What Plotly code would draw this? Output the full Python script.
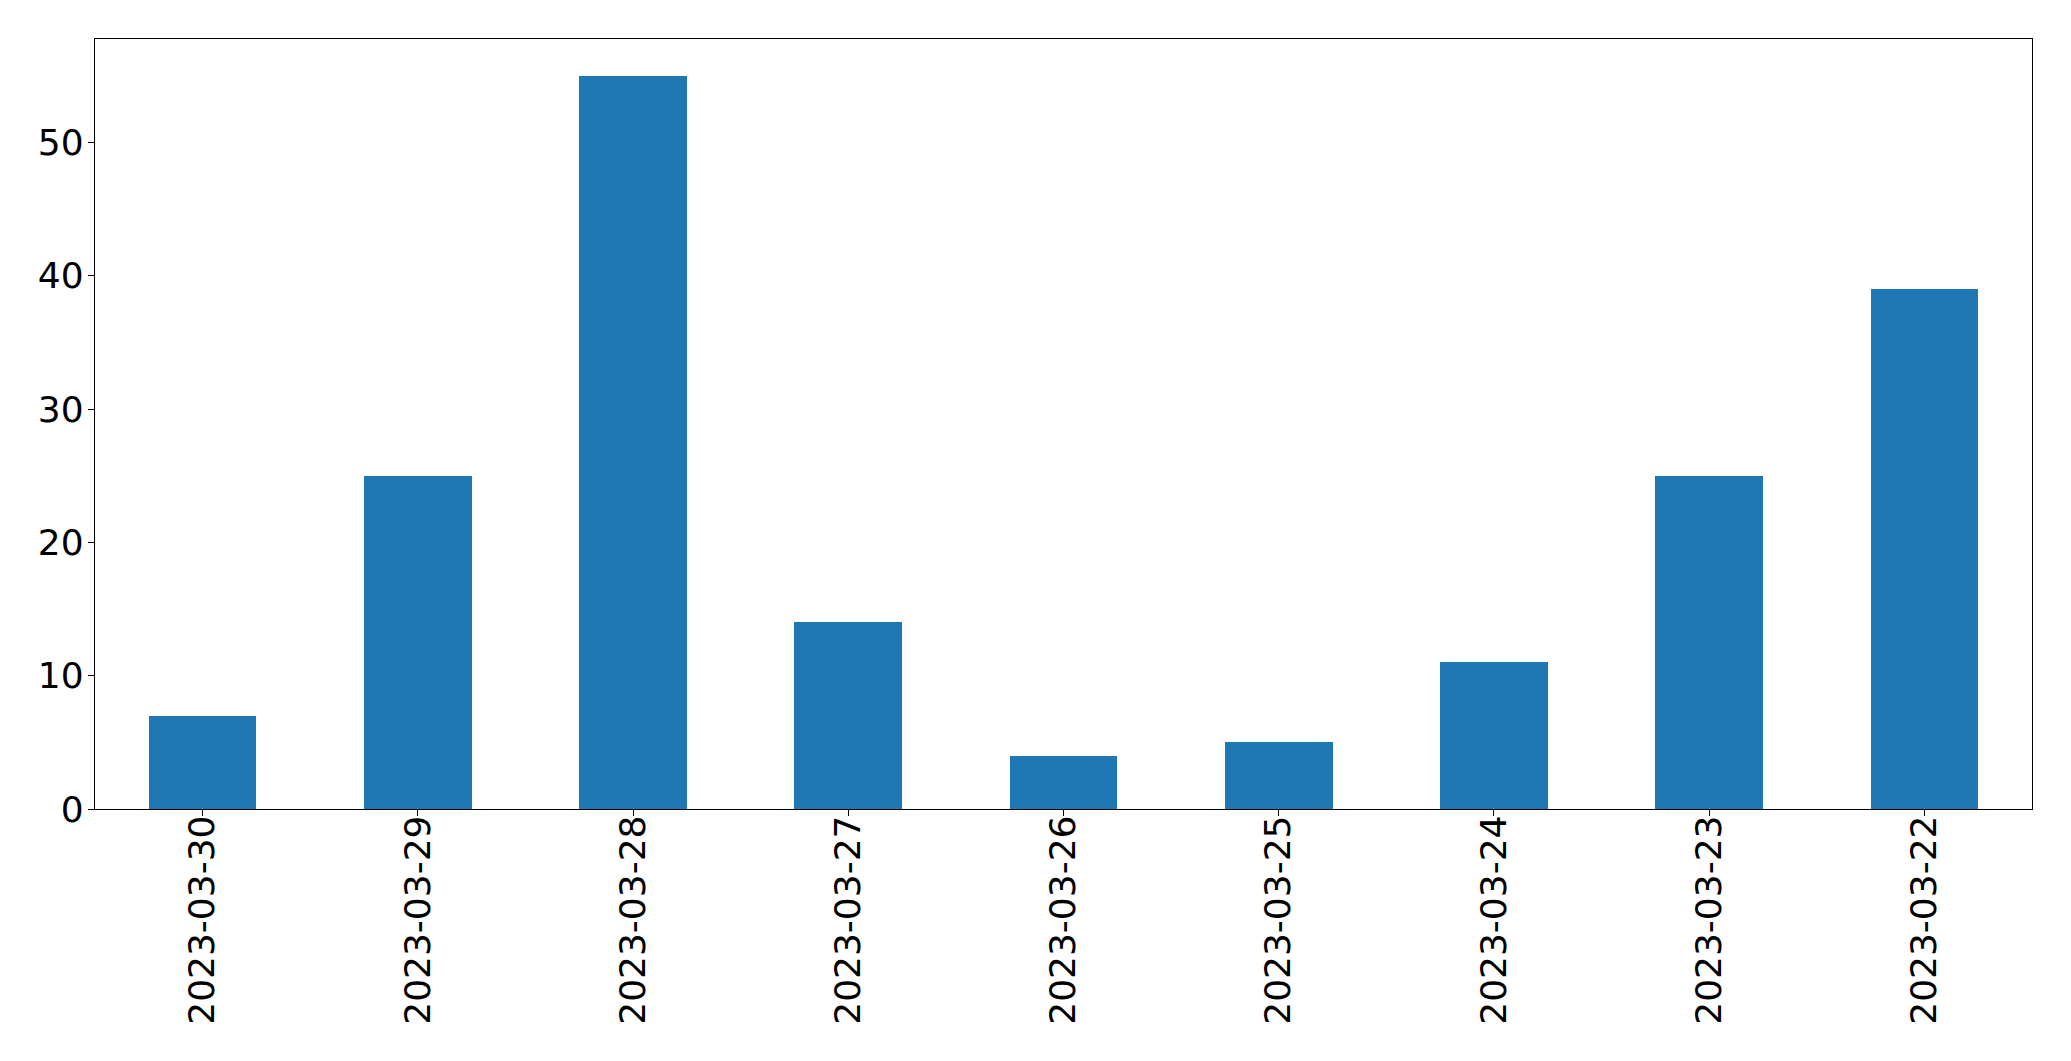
import plotly.graph_objects as go

dates = ["2023-03-30", "2023-03-29", "2023-03-28", "2023-03-27", "2023-03-26",
         "2023-03-25", "2023-03-24", "2023-03-23", "2023-03-22"]
counts = [7, 25, 55, 14, 4, 5, 11, 25, 39]
y_ticks = [0, 10, 20, 30, 40, 50]

fig = go.Figure(go.Bar(x=list(range(len(dates))), y=counts, width=0.5,
                       marker=dict(color="#1f77b4", line=dict(width=0))))

font = dict(family="DejaVu Sans", size=36, color="black")
fig.update_layout(
    width=2055, height=1045,
    margin=dict(l=87, r=31, t=31, b=244, autoexpand=False),
    paper_bgcolor="white", plot_bgcolor="white",
    showlegend=False, font=font, bargap=0,
)
fig.update_xaxes(
    range=[-0.5, len(dates) - 0.5], automargin=False,
    tickmode="array", tickvals=list(range(len(dates))), ticktext=dates,
    tickangle=-90, ticks="outside", ticklen=6, tickwidth=1.3, tickcolor="black",
    ticklabelstandoff=-15,
    showline=True, linecolor="black", linewidth=1.3, mirror=True,
    showgrid=False, zeroline=False, tickfont=font,
)
fig.update_yaxes(
    range=[0, max(counts) * 1.05], automargin=False,
    tickmode="array", tickvals=y_ticks,
    ticks="outside", ticklen=6, tickwidth=1.3, tickcolor="black",
    ticklabelstandoff=-3,
    showline=True, linecolor="black", linewidth=1.3, mirror=True,
    showgrid=False, zeroline=False, tickfont=font,
)
fig.write_html("out.html")
